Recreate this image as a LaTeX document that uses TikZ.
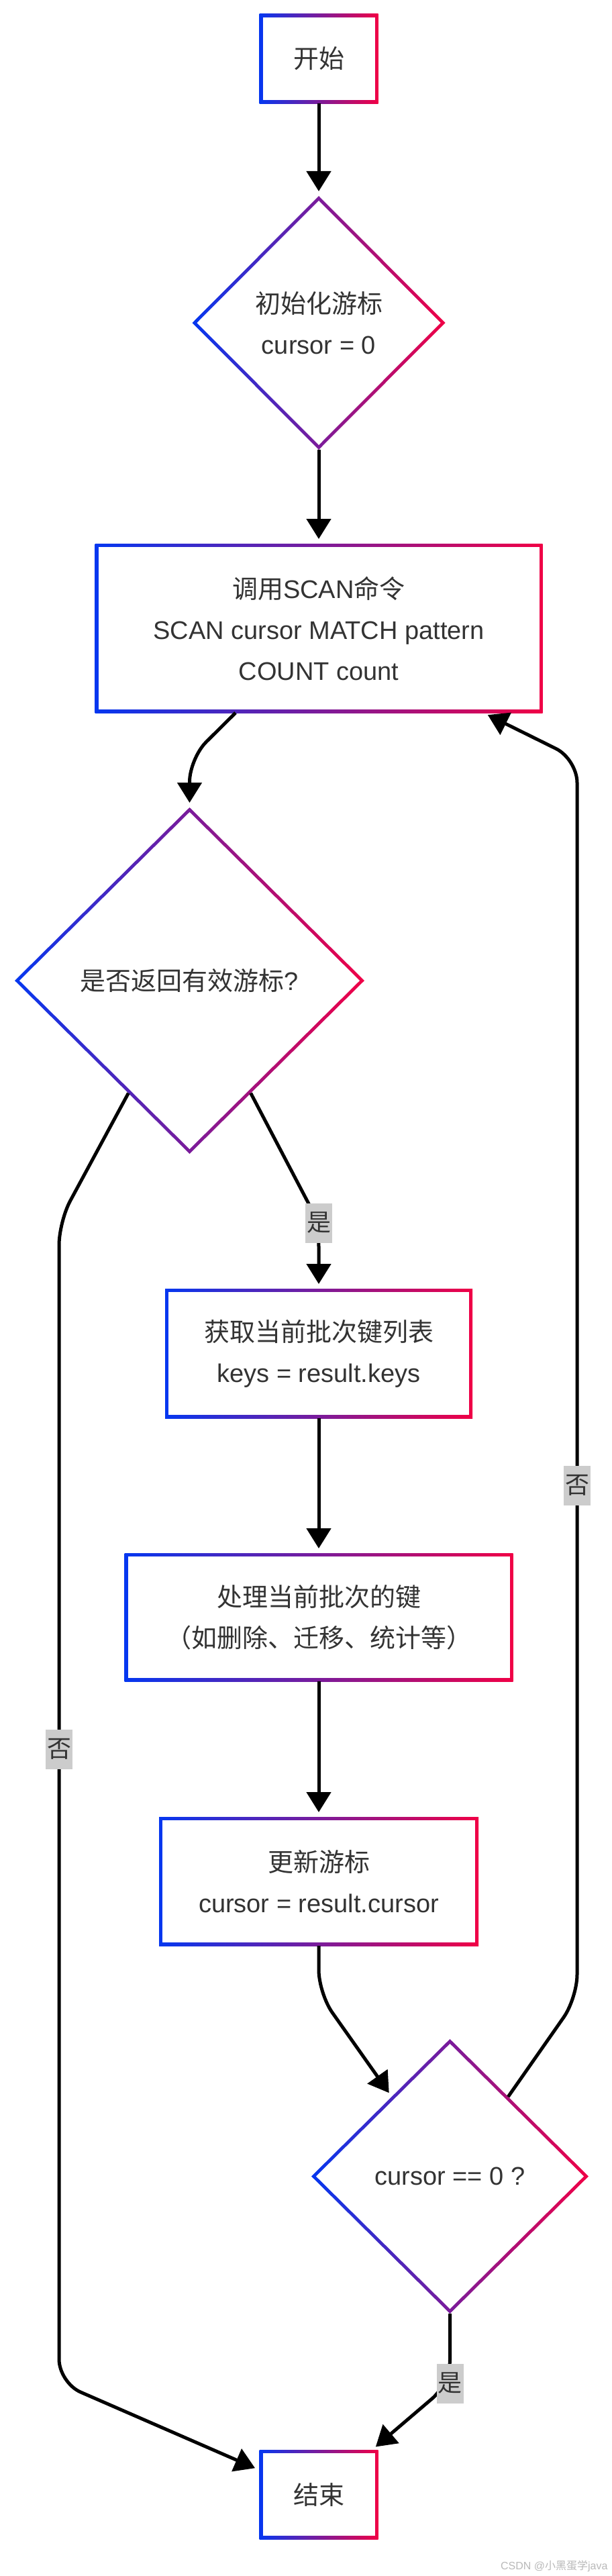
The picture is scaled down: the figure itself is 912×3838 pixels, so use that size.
\documentclass[tikz,border=0pt]{standalone}
\usepackage{fontspec}
\setmainfont{Liberation Sans}
\newfontfamily\cjk{Noto Sans CJK SC}
\usepackage{tikz}
\usetikzlibrary{arrows.meta, positioning, shapes.geometric, calc, backgrounds}
\definecolor{GradBlue}{RGB}{5,55,240}
\definecolor{GradRed}{RGB}{240,0,70}
\definecolor{TextGray}{RGB}{51,51,51}
\definecolor{TagGray}{RGB}{204,204,204}
\definecolor{MarkGray}{RGB}{185,185,185}

\begin{document}
\begin{tikzpicture}[
  x=1pt, y=-1pt,
  font=\fontsize{38}{61}\selectfont,
  term/.style={rectangle, minimum width=177pt, minimum height=133pt, inner sep=0pt, outer sep=0pt, text=TextGray},
  box/.style={rectangle, minimum height=192pt, inner sep=0pt, outer sep=0pt, align=center, text=TextGray},
  cond/.style={diamond, inner sep=0pt, outer sep=0pt, align=center, text=TextGray},
  tag/.style={fill=TagGray, text=TextGray, minimum width=40pt, minimum height=59pt, inner sep=0pt, font=\cjk\fontsize{36}{36}\selectfont},
  arr/.style={-{Triangle[length=30pt, width=36pt]}, line width=5pt, shorten >=7pt, rounded corners=35pt}
]
  \useasboundingbox (0,0) rectangle (912,3838);

  % main column
  \node[term] (start) at (475,87.5) {\cjk 开始};
  \node[cond, minimum width=377pt, minimum height=378pt, below=138pt of start] (init) {{\cjk 初始化游标}\\cursor = 0};
  \node[box, minimum width=667pt, minimum height=252pt, below=140pt of init] (scan) {{\cjk 调用}SCAN{\cjk 命令}\\SCAN cursor MATCH pattern\\COUNT count};
  \node[cond, minimum width=521pt, minimum height=516pt, below=141pt of scan, xshift=-192.5pt] (valid) {{\cjk 是否返回有效游标}?};
  \node[box, minimum width=458pt, minimum height=193pt, below=201pt of valid, xshift=192.5pt] (fetch) {{\cjk 获取当前批次键列表}\\keys = result.keys};
  \node[box, minimum width=579pt, minimum height=191pt, below=201pt of fetch] (handle) {{\cjk 处理当前批次的键}\\{\cjk （如删除、迁移、统计等）}};
  \node[box, minimum width=476pt, below=202pt of handle] (update) {{\cjk 更新游标}\\cursor = result.cursor};
  \node[cond, minimum width=413pt, minimum height=409pt, below=139pt of update, xshift=195.5pt] (zero) {cursor == 0 ?};
  \node[term, below=203pt of zero, xshift=-195.5pt] (end) {\cjk 结束};

  % bends and label spots
  \coordinate (b1) at (282.5,1130);
  \coordinate (yes1pos) at (475,1822);
  \coordinate (b2) at (475,2970);
  \coordinate (b3) at (860,2977);
  \coordinate (b4) at (860,1131);
  \coordinate (yes2pos) at (670.5,3551);
  \coordinate (b5) at (88,1820);
  \coordinate (b6) at (88,3550);

  % gradient borders
  \begin{scope}[on background layer]
    \fill[white] (0,0) rectangle (912,3838);
    \foreach \n in {start,scan,fetch,handle,update,end}{
      \shade[left color=GradBlue, right color=GradRed] (\n.north west) rectangle (\n.south east);
      \fill[white] ([shift={(5pt,-5pt)}]\n.north west) rectangle ([shift={(-5pt,5pt)}]\n.south east);
    }
    \foreach \n in {init,valid,zero}{
      \shade[left color=GradBlue, right color=GradRed] (\n.north) -- (\n.east) -- (\n.south) -- (\n.west) -- cycle;
      \fill[white] ($(\n.north)!7pt!(\n.center)$) -- ($(\n.east)!7pt!(\n.center)$) -- ($(\n.south)!7pt!(\n.center)$) -- ($(\n.west)!7pt!(\n.center)$) -- cycle;
    }
  \end{scope}

  \draw[arr] (start) -- (init);
  \draw[arr] (init) -- (scan);
  \draw[arr] ([xshift=-124pt]scan.south) -- (b1) -- (valid.north);
  \draw[arr] ($(valid.south)!0.35!(valid.east)$) -- (yes1pos) -- (fetch.north);
  \draw[arr] (fetch) -- (handle);
  \draw[arr] (handle) -- (update);
  \draw[arr] (update.south) -- (b2) -- ($(zero.west)!0.58!(zero.north)$);
  \draw[arr] ($(zero.north)!0.42!(zero.east)$) -- (b3) -- (b4) -- ([xshift=-88pt]scan.south east);
  \draw[arr] (zero.south) -- (yes2pos) -- ([xshift=-9pt]end.north east);
  \draw[arr] ($(valid.south)!0.35!(valid.west)$) -- (b5) -- (b6) -- ([yshift=-30pt]end.north west);

  % edge labels
  \node[tag] (yes1) at (yes1pos) {是};
  \node[tag] (no1) at (860,2213) {否};
  \node[tag] (no2) at (88,2606) {否};
  \node[tag] (yes2) at (yes2pos) {是};

  \node[anchor=east, text=MarkGray, font=\fontsize{16}{16}\selectfont] (mark) at (909,3823) {CSDN @{\cjk 小黑蛋学}java};
\end{tikzpicture}
\end{document}
